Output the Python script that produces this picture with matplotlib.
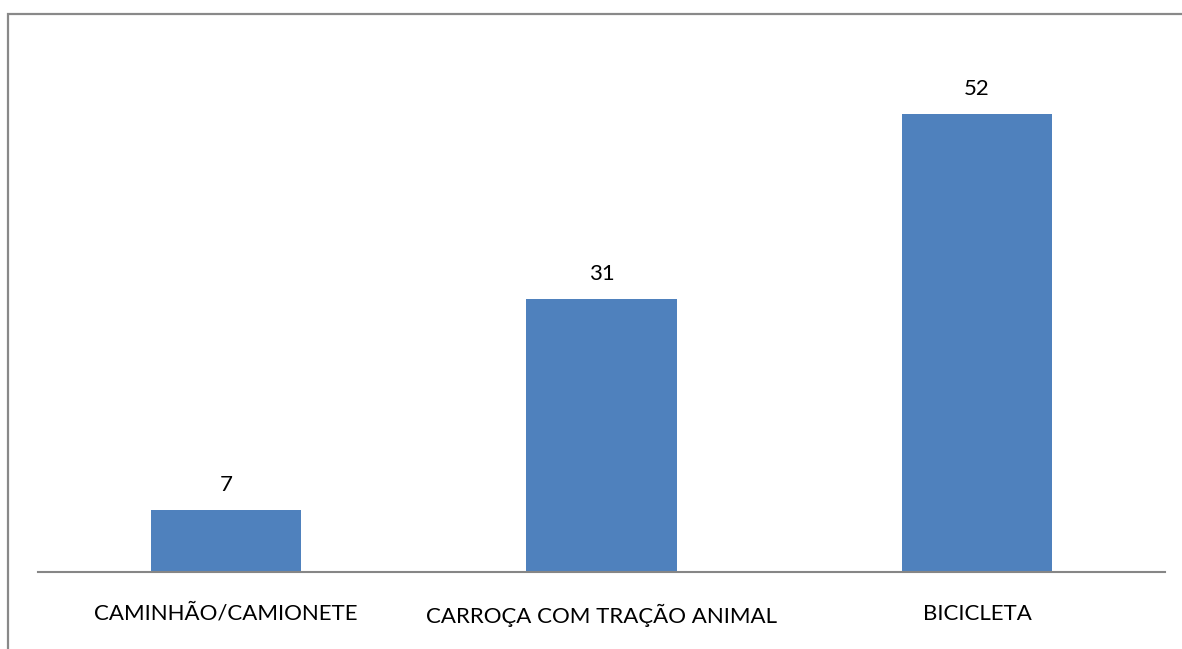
import matplotlib.pyplot as plt
from matplotlib.patches import Rectangle

categories = ["CAMINHÃO/CAMIONETE", "CARROÇA COM TRAÇÃO ANIMAL", "BICICLETA"]
values = [7, 31, 52]

W, H = 1182, 649
fig = plt.figure(figsize=(W / 100, H / 100), dpi=100)
plt.rcParams['font.family'] = ['Lato', 'DejaVu Sans']

# outer chart frame (extends past right/bottom edges)
fig.patches.append(Rectangle((8 / W, -0.1), 1.2, 1 - 14 / H + 0.1,
                             transform=fig.transFigure, fill=False,
                             edgecolor='#898989', linewidth=1.6))

ax = fig.add_axes([38 / W, 77 / H, 1127 / W, 528.6 / H])
x = range(len(categories))
bars = ax.bar(x, values, width=0.4, color='#4f81bd')
ax.set_xlim(-0.5, 2.5)
ax.set_ylim(0, 60)

for b, v in zip(bars, values):
    ax.text(b.get_x() + b.get_width() / 2, v + 1.7, str(v),
            ha='center', va='bottom', fontsize=16, color='black')

for s in ['top', 'right', 'left']:
    ax.spines[s].set_visible(False)
ax.spines['bottom'].set_color('#868686')
ax.spines['bottom'].set_linewidth(1.5)
ax.set_yticks([])
ax.set_xticks(list(x))
ax.set_xticklabels(categories, fontsize=16)
ax.tick_params(axis='x', length=0, pad=23)

fig.savefig('out.png', dpi=100)
